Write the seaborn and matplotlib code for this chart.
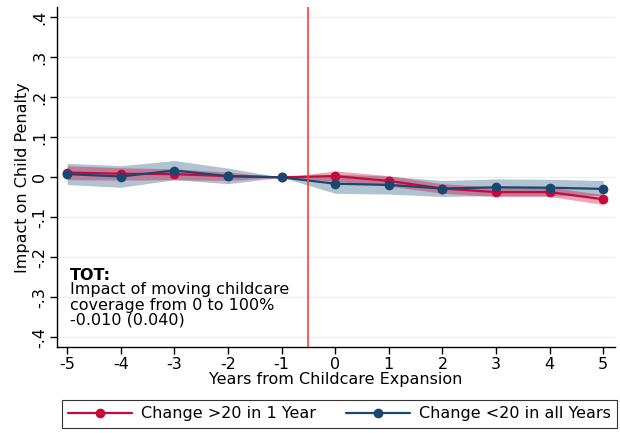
import numpy as np
import pandas as pd
import matplotlib
matplotlib.use("Agg")
import matplotlib.pyplot as plt
import seaborn as sns
from matplotlib.lines import Line2D

years = [-5, -4, -3, -2, -1, 0, 1, 2, 3, 4, 5]
red_est = [0.012, 0.009, 0.008, 0.003, 0.0, 0.003, -0.009, -0.028, -0.037, -0.037, -0.055]
red_lo = [-0.006, -0.007, -0.006, -0.008, 0.0, -0.010, -0.022, -0.040, -0.048, -0.048, -0.068]
red_hi = [0.029, 0.024, 0.021, 0.013, 0.0, 0.016, 0.004, -0.016, -0.025, -0.025, -0.043]
blue_est = [0.008, 0.002, 0.017, 0.003, 0.0, -0.016, -0.019, -0.028, -0.025, -0.026, -0.029]
blue_lo = [-0.018, -0.025, -0.006, -0.016, 0.0, -0.040, -0.042, -0.048, -0.046, -0.046, -0.046]
blue_hi = [0.035, 0.029, 0.042, 0.023, 0.0, 0.008, 0.003, -0.008, -0.004, -0.005, -0.008]
series_names = ["Change >20 in 1 Year", "Change <20 in all Years"]
yticks = [-0.4, -0.3, -0.2, -0.1, 0.0, 0.1, 0.2, 0.3, 0.4]
ytick_labels = ["-.4", "-.3", "-.2", "-.1", "0", ".1", ".2", ".3", ".4"]

sns.set_theme(style="white")
plt.rcParams['font.family'] = ['DejaVu Sans']
for k in ["text.color", "axes.labelcolor", "xtick.color", "ytick.color"]:
    plt.rcParams[k] = "black"

red = "#c8093b"
blue = "#1a476f"
fs = 11.5

df = pd.DataFrame({
    "year": years * 2,
    "est": red_est + blue_est,
    "group": [series_names[0]] * len(years) + [series_names[1]] * len(years),
})

fig = plt.figure(figsize=(6.2, 4.33), dpi=100)
ax = fig.add_axes([0.092, 0.198, 0.900, 0.785])

ax.set_ylim(-0.425, 0.425)
ax.set_xlim(-5.19, 5.22)
ax.set_yticks(yticks)
ax.set_yticklabels(ytick_labels, rotation=90, va="center")
ax.set_xticks(years)
ax.set_xticklabels([str(y) for y in years])
for t in yticks:
    ax.axhline(t, color="#e9f1f2", lw=1.0, zorder=0)

ax.fill_between(years, blue_lo, blue_hi, color="#a9bccc", alpha=0.9, lw=0, zorder=1)
ax.fill_between(years, red_lo, red_hi, color=red, alpha=0.36, lw=0, zorder=2)

sns.lineplot(data=df, x="year", y="est", hue="group", palette=[red, blue],
             marker="o", markersize=7, markeredgewidth=0, lw=1.6, ax=ax,
             legend=False, zorder=3)

ax.axvline(-0.5, color="#ff3c3c", lw=1.2, zorder=4)

for s in ["top", "right"]:
    ax.spines[s].set_visible(False)
for s in ["left", "bottom"]:
    ax.spines[s].set_color("black")
    ax.spines[s].set_linewidth(1.0)
ax.tick_params(axis="both", which="both", direction="out", length=5, width=1,
               color="black", labelcolor="black", labelsize=fs, left=True, bottom=True, pad=2)

ax.set_xlabel("Years from Childcare Expansion", fontsize=fs, labelpad=0)
ax.set_ylabel("Impact on Child Penalty", fontsize=fs, labelpad=2)

ax.text(-4.95, -0.226, "TOT:", fontsize=fs, fontweight="bold", va="top", ha="left")
ax.text(-4.95, -0.263, "Impact of moving childcare\ncoverage from 0 to 100%\n-0.010 (0.040)",
        fontsize=fs, va="top", ha="left", linespacing=1.02)

handles = [Line2D([], [], color=red, marker="o", markersize=6, lw=1.6),
           Line2D([], [], color=blue, marker="o", markersize=6, lw=1.6)]
leg = fig.legend(handles, series_names, loc="lower center", bbox_to_anchor=(0.548, 0.012),
                 ncol=2, frameon=True, fancybox=False, fontsize=fs, handlelength=3.95,
                 columnspacing=1.9, borderpad=0.4, handletextpad=0.6, borderaxespad=0)
leg.get_frame().set_edgecolor("black")
leg.get_frame().set_linewidth(0.8)

fig.savefig("out.png", dpi=100)
